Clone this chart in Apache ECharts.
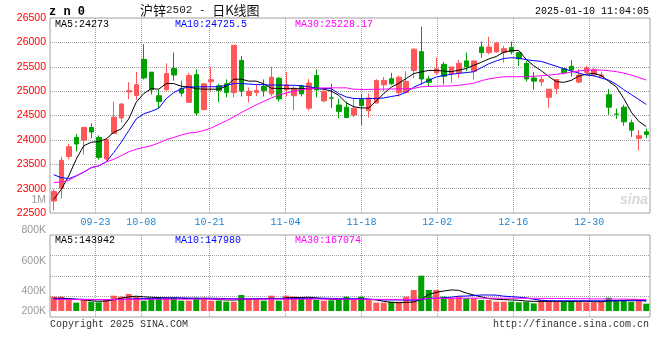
<!DOCTYPE html>
<html><head><meta charset="utf-8">
<script src="https://cdn.jsdelivr.net/npm/echarts@6/dist/echarts.min.js"></script>
<style>html,body{margin:0;padding:0;background:#fff}#c{width:660px;height:360px}</style>
</head><body><div id="c"></div>
<script>
// ---------- data ----------
const dates = [
 '09-11','09-12','09-13','09-18','09-19','09-20','09-23','09-24','09-25','09-26','09-27','09-30',
 '10-08','10-09','10-10','10-11','10-14','10-15','10-16','10-17','10-18','10-21','10-22','10-23','10-24','10-25','10-28','10-29','10-30','10-31',
 '11-01','11-04','11-05','11-06','11-07','11-08','11-11','11-12','11-13','11-14','11-15','11-18','11-19','11-20','11-21','11-22','11-25','11-26','11-27','11-28','11-29',
 '12-02','12-03','12-04','12-05','12-06','12-09','12-10','12-11','12-12','12-13','12-16','12-17','12-18','12-19','12-20','12-23','12-24','12-25','12-26','12-27','12-30','12-31',
 '01-02','01-03','01-06','01-07','01-08','01-09','01-10'];
const opens  = [22745,23005,23660,24050,23995,24255,24050,23610,24130,24450,24985,24910,25650,25390,24905,25030,25465,25050,24770,25340,
                24620,25195,25110,25150,24970,25630,24910,24970,25095,24945,25265,25030,24905,25110,24650,25320,24800,24860,24715,24670,
                24510,24830,24600,24755,25130,25255,24970,24970,25425,25810,25250,25375,25550,25360,25375,25620,25410,25905,25790,25805,
                25790,25895,25790,25570,25270,25190,24875,25050,25460,25510,25185,25380,25330,25290,24925,24530,24670,24350,24030,24165];
const closes = [22940,23580,23860,23915,24255,24160,23640,24005,24465,24735,25010,25130,25270,25030,24785,25360,25330,24960,25320,24550,
                25150,25235,25015,24970,25940,25005,24995,25015,25015,25285,24840,25130,25060,24945,25165,25030,24995,24855,24580,24460,
                24650,24705,24860,25220,25220,25150,25285,25200,25860,25250,25180,25460,25305,25495,25570,25500,25620,25790,25905,25985,
                25870,25805,25665,25250,25205,25240,25040,25240,25375,25430,25330,25480,25440,25330,24670,24525,24370,24200,24085,24110];
const lows   = [22555,22800,23600,23765,23700,24035,23595,23575,24125,24355,24835,24820,25240,24930,24650,24995,25215,24890,24770,24495,
                24615,25000,24770,24875,24875,24890,24770,24900,24890,24890,24785,24890,24605,24890,24605,24875,24770,24650,24445,24445,
                24470,24300,24455,24755,24995,25125,24890,24950,25270,25130,25100,25340,25135,25170,25270,25410,25240,25685,25755,25790,
                25585,25755,25515,25200,25030,25100,24655,24945,25340,25300,25160,25350,25300,25280,24515,24430,24290,24060,23780,24040];
const highs  = [22985,23650,23920,24125,24270,24340,24090,24040,24785,24755,25185,25395,25965,25390,25030,25570,25795,25215,25375,25445,
                25150,25500,25150,25240,25940,25720,25075,25130,25240,25500,25290,25395,25100,25130,25250,25445,25040,25150,24840,24785,
                24855,24945,24950,25240,25290,25375,25320,25410,25880,26320,25310,25690,25600,25500,25640,25790,25620,26015,26115,26015,
                25930,26015,25800,25620,25390,25300,25040,25240,25460,25640,25450,25520,25480,25400,25040,24640,24720,24415,24200,24230];
const ma5  = [22780,22985,23260,23605,23880,23950,23965,24020,24155,24225,24430,24775,24950,25050,25040,25155,25155,25100,25085,25050,
              25040,25040,25040,25100,25245,25245,25205,25205,25150,25060,25055,25050,25050,25050,25050,25050,25040,25000,24915,24760,
              24680,24655,24655,24800,24950,25080,25160,25260,25360,25395,25425,25425,25412,25400,25430,25465,25530,25590,25660,25710,
              25800,25830,25835,25650,25520,25420,25300,25195,25180,25220,25310,25345,25365,25320,25200,25090,24850,24570,24380,24273];
const ma10 = [23285,23225,23205,23260,23340,23430,23465,23550,23740,23950,24190,24430,24535,24585,24650,24845,24970,25050,25085,25085,
              25090,25090,25090,25120,25155,25155,25145,25135,25130,25125,25125,25120,25120,25110,25090,25065,25055,25050,24950,24880,
              24850,24845,24845,24850,24860,24890,24915,24980,25080,25150,25220,25290,25320,25345,25365,25380,25398,25480,25560,25620,
              25670,25685,25675,25645,25625,25610,25560,25510,25460,25412,25370,25330,25315,25270,25225,25140,25030,24930,24830,24726];
const ma30 = [23125,23135,23170,23260,23340,23430,23465,23550,23600,23675,23755,23810,23845,23880,23935,24005,24050,24100,24140,24155,
              24190,24245,24320,24390,24470,24560,24640,24720,24790,24860,24920,24960,25000,25030,25050,25060,25065,25067,25067,25067,
              25040,25035,25035,25040,25040,25045,25045,25050,25055,25090,25095,25100,25105,25108,25120,25140,25160,25215,25250,25275,
              25295,25295,25295,25295,25305,25315,25328,25345,25365,25390,25415,25432,25432,25432,25420,25400,25370,25330,25280,25228];
// volume in thousands
const volK = [208,208,160,121,160,135,126,174,222,208,246,208,150,184,193,193,193,150,150,193,
              193,150,150,135,135,232,174,174,150,222,150,222,208,184,193,160,150,155,160,208,
              160,208,160,121,121,135,135,208,304,512,304,304,208,184,208,184,184,160,160,135,
              135,135,126,135,111,160,145,135,135,145,135,126,126,135,193,160,160,135,160,106];
const volMa5K  = [185,185,180,170,160,150,140,145,165,185,205,215,205,200,195,190,190,185,180,180,
                  180,175,165,160,160,165,170,175,175,185,180,190,195,195,200,190,180,170,165,170,
                  170,175,170,160,140,125,120,125,130,170,240,270,290,305,300,260,232,205,180,170,
                  165,160,155,145,140,140,140,140,140,140,140,140,135,135,145,150,155,160,160,144];
const volMa10K = [175,175,175,172,170,168,165,165,165,168,172,178,180,182,185,188,190,190,188,185,
                  185,185,183,180,178,178,178,178,178,178,178,178,180,182,185,185,185,183,180,178,
                  178,175,172,165,160,160,160,158,158,165,185,185,190,200,215,217,225,232,232,230,
                  215,208,200,190,170,155,150,148,148,148,148,148,148,148,148,148,148,150,150,148];
const volMa30K = [168,168,167,167,166,166,165,165,165,166,167,168,168,169,170,170,171,171,172,172,
                  172,172,172,172,172,172,172,172,172,172,172,172,172,172,172,172,172,172,171,171,
                  170,170,170,169,168,168,168,168,170,175,178,180,182,184,185,186,186,186,186,186,
                  186,185,185,184,184,183,182,182,181,180,178,177,176,175,174,173,172,170,168,167];
const xTickDates = ['09-23','10-08','10-21','11-04','11-18','12-02','12-16','12-30'];
const priceMin = 22500, priceMax = 26500, priceStep = 500;
const volTickLabels = ['800K','600K','400K','200K'];
const extraAxisLabel = '1M';
const titleCode = 'z n 0';
const titleParts = ['沪锌', '2502 - ', '日K线图'];
const stampText = '2025-01-10 11:04:05';
const priceMaTexts = ['MA5:24273','MA10:24725.5','MA30:25228.17'];
const volMaTexts = ['MA5:143942','MA10:147980','MA30:167074'];
const footLeft = 'Copyright 2025 SINA.COM';
const footRight = 'http://finance.sina.com.cn';

// ---------- style ----------
const UP = '#ff5757', DOWN = '#00a000';
const MA_COLORS = ['#000000', '#0000ff', '#ff00ff'];
const MONO = '"Liberation Mono", "DejaVu Sans Mono", monospace';
const SANS = '"Liberation Sans", Arial, sans-serif';
const CJK = '"Noto Sans CJK SC", sans-serif';
const GRIDC = '#a0a0a0';
const isTick = (i, v) => xTickDates.indexOf(v) >= 0;

const candles = dates.map((d, i) => [opens[i], closes[i], lows[i], highs[i]]);
const vols = volK.map((v, i) => ({value: v, itemStyle: {color: closes[i] >= opens[i] ? UP : DOWN}}));

const chart = echarts.init(document.getElementById('c'), null, {renderer: 'canvas'});
const dotted = {show: true, lineStyle: {color: GRIDC, type: 'dotted', width: 1}};

function maLine(name, data, color, xi, yi) {
  return {name, type: 'line', data, xAxisIndex: xi, yAxisIndex: yi, showSymbol: false, symbol: 'none',
    lineStyle: {color, width: 1}, itemStyle: {color}, silent: true, z: 5};
}
function txt(text, x, y, font, fill, align) {
  return {type: 'text', x, y, z: 100,
    style: {text, font, fill, align: align || 'left', verticalAlign: 'middle',
            textAlign: align || 'left', textVerticalAlign: 'middle'}};
}

const volY = [230, 261, 291, 311];

chart.setOption({
  animation: false,
  backgroundColor: '#fff',
  grid: [
    {left: 50, width: 600, top: 18, height: 195, show: true, borderColor: '#a0a0a0', borderWidth: 1, backgroundColor: 'transparent'},
    {left: 50, width: 600, top: 235, height: 82, show: true, borderColor: '#a0a0a0', borderWidth: 1, backgroundColor: 'transparent'}
  ],
  xAxis: [
    {type: 'category', gridIndex: 0, data: dates, boundaryGap: true, position: 'bottom',
     axisLine: {show: false}, axisTick: {show: false}, axisLabel: {show: false}, splitLine: {show: false}},
    {type: 'category', gridIndex: 0, data: dates, boundaryGap: false, position: 'bottom',
     axisLine: {show: false}, axisTick: {show: false},
     axisLabel: {show: true, interval: isTick, color: '#1a88d4', fontFamily: MONO, fontSize: 10, margin: 4},
     splitLine: {show: true, interval: isTick, lineStyle: {color: GRIDC, type: 'dotted', width: 1}}},
    {type: 'category', gridIndex: 1, data: dates, boundaryGap: true, position: 'bottom',
     axisLine: {show: false}, axisTick: {show: false}, axisLabel: {show: false}, splitLine: {show: false}},
    {type: 'category', gridIndex: 1, data: dates, boundaryGap: false, position: 'bottom',
     axisLine: {show: false}, axisTick: {show: false}, axisLabel: {show: false},
     splitLine: {show: true, interval: isTick, lineStyle: {color: GRIDC, type: 'dotted', width: 1}}}
  ],
  yAxis: [
    {type: 'value', gridIndex: 0, min: priceMin, max: priceMax, interval: priceStep,
     axisLine: {show: false}, axisTick: {show: false},
     axisLabel: {color: '#ff0000', fontFamily: SANS, fontSize: 10.5, margin: 4, padding: [0, 0, 3, 0],
                 formatter: v => String(v)},
     splitLine: Object.assign({}, dotted, {showMinLine: false, showMaxLine: false})},
    {type: 'value', gridIndex: 1, min: -87, max: 1102,
     axisLine: {show: false}, axisTick: {show: false}, axisLabel: {show: false}, splitLine: {show: false}},
    {type: 'value', gridIndex: 1, min: 0, max: 4, interval: 1,
     axisLine: {show: false}, axisTick: {show: false}, axisLabel: {show: false},
     splitLine: Object.assign({}, dotted, {showMinLine: false, showMaxLine: false})}
  ],
  series: [
    {type: 'candlestick', xAxisIndex: 0, yAxisIndex: 0, data: candles, barWidth: 5,
     itemStyle: {color: UP, color0: DOWN, borderColor: UP, borderColor0: DOWN, borderWidth: 1}, z: 3},
    maLine('MA5', ma5, MA_COLORS[0], 0, 0),
    maLine('MA10', ma10, MA_COLORS[1], 0, 0),
    maLine('MA30', ma30, MA_COLORS[2], 0, 0),
    {type: 'bar', xAxisIndex: 2, yAxisIndex: 1, data: vols, barWidth: 6, z: 3},
    maLine('VMA5', volMa5K, MA_COLORS[0], 2, 1),
    maLine('VMA10', volMa10K, MA_COLORS[1], 2, 1),
    maLine('VMA30', volMa30K, MA_COLORS[2], 2, 1)
  ],
  graphic: [
    txt(titleCode, 49, 12, 'bold 12px ' + MONO, '#000'),
    {type: 'text', x: 140, y: 10, z: 100,
     style: {text: '{c|' + titleParts[0] + '}{m|' + titleParts[1] + '}{c|' + titleParts[2] + '}',
             verticalAlign: 'middle', textVerticalAlign: 'middle',
             rich: {c: {font: '13px ' + CJK, fill: '#111', color: '#111'},
                    m: {font: '11px ' + MONO, fill: '#222', color: '#222'}}}},
    txt(stampText, 649, 11, '10px ' + MONO, '#000', 'right'),
    txt(priceMaTexts[0], 55, 24, '10px ' + MONO, MA_COLORS[0]),
    txt(priceMaTexts[1], 175, 24, '10px ' + MONO, MA_COLORS[1]),
    txt(priceMaTexts[2], 295, 24, '10px ' + MONO, MA_COLORS[2]),
    txt(volMaTexts[0], 55, 240, '10px ' + MONO, MA_COLORS[0]),
    txt(volMaTexts[1], 175, 240, '10px ' + MONO, MA_COLORS[1]),
    txt(volMaTexts[2], 295, 240, '10px ' + MONO, MA_COLORS[2]),
    txt(extraAxisLabel, 46, 200, '10.5px ' + SANS, '#999', 'right'),
    ...volTickLabels.map((t, i) => txt(t, 46, volY[i], '10.5px ' + SANS, '#999', 'right')),
    txt(footLeft, 50, 324, '10px ' + MONO, '#333'),
    txt(footRight, 649, 324, '10px ' + MONO, '#333', 'right'),
    txt('sina', 648, 200, 'italic bold 14px ' + SANS, '#d8d8d8', 'right')
  ]
});
</script></body></html>
